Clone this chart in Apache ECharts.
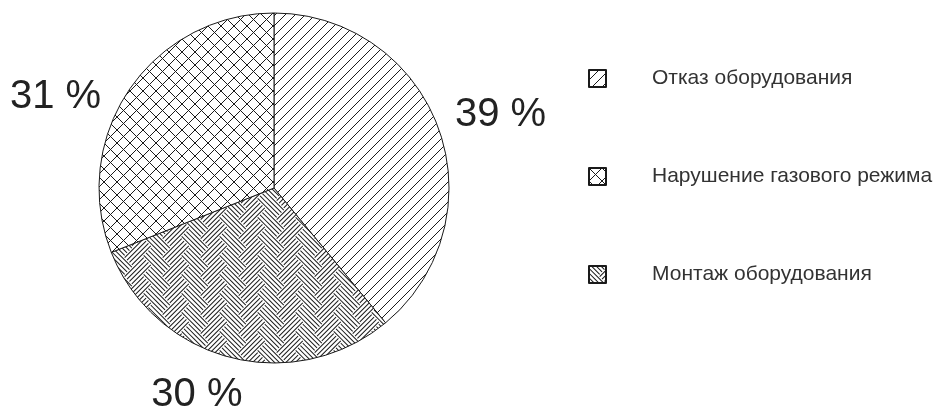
<!DOCTYPE html>
<html>
<head>
<meta charset="utf-8">
<script src="https://cdn.jsdelivr.net/npm/echarts@6/dist/echarts.min.js"></script>
<style>
  html, body { margin: 0; padding: 0; background: #ffffff; }
  #chart { width: 940px; height: 412px; }
</style>
</head>
<body>
<div id="chart"></div>
<script>
// slices, clockwise from 12 o'clock
const categories = ['Отказ оборудования', 'Монтаж оборудования', 'Нарушение газового режима']
const shares = [39, 30, 31]
// legend order as in the picture
const legendOrder = ['Отказ оборудования', 'Нарушение газового режима', 'Монтаж оборудования']

const INK = '#1a1a1a'

function makeTile(w, h, draw) {
  const c = document.createElement('canvas')
  c.width = w
  c.height = h
  const ctx = c.getContext('2d')
  ctx.fillStyle = '#ffffff'
  ctx.fillRect(0, 0, w, h)
  ctx.strokeStyle = INK
  ctx.lineWidth = 1
  draw(ctx)
  return c
}

// "/" single hatch
const hatchTile = makeTile(10, 10, ctx => {
  ctx.beginPath()
  for (let k = -1; k <= 1; k++) {
    ctx.moveTo(k * 10, 10)
    ctx.lineTo(k * 10 + 10, 0)
  }
  ctx.stroke()
})

// diagonal cross hatch
const crossTile = makeTile(13, 13, ctx => {
  ctx.beginPath()
  for (let k = -1; k <= 1; k++) {
    ctx.moveTo(k * 13, 13)
    ctx.lineTo(k * 13 + 13, 0)
    ctx.moveTo(k * 13, 0)
    ctx.lineTo(k * 13 + 13, 13)
  }
  ctx.stroke()
})

// twill weave turned by 45 degrees
const P = 19
const weaveTile = makeTile(2 * P, P, ctx => {
  const a = P / Math.SQRT2
  const n = 4
  ctx.save()
  ctx.rotate(Math.PI / 4)
  ctx.beginPath()
  for (let i = -8; i <= 8; i++) {
    for (let j = -8; j <= 8; j++) {
      const horiz = (((i - j) % 4) + 4) % 4 < 2
      for (let k = 0; k < n; k++) {
        const off = (k + 0.5) * a / n
        if (horiz) {
          ctx.moveTo(i * a, j * a + off)
          ctx.lineTo((i + 1) * a, j * a + off)
        } else {
          ctx.moveTo(i * a + off, j * a)
          ctx.lineTo(i * a + off, (j + 1) * a)
        }
      }
    }
  }
  ctx.stroke()
  ctx.restore()
})

const fills = [hatchTile, weaveTile, crossTile]
// nudges of the percentage labels, per slice
const labelNudge = [[-15, -4], [24, 10], [0, 23]]

const chart = echarts.init(document.getElementById('chart'))

chart.setOption({
  backgroundColor: '#ffffff',
  animation: false,
  legend: {
    data: legendOrder,
    orient: 'vertical',
    left: 588,
    top: 68,
    padding: 0,
    itemWidth: 17,
    itemHeight: 17,
    itemGap: 77,
    icon: 'rect',
    textStyle: {
      fontFamily: 'Liberation Sans',
      fontSize: 21,
      lineHeight: 20,
      color: '#333333',
      padding: [0, 0, 0, 41]
    }
  },
  series: [
    {
      type: 'pie',
      center: [274, 188],
      radius: 175,
      startAngle: 90,
      clockwise: true,
      data: categories.map((name, i) => ({
        name,
        value: shares[i],
        itemStyle: { color: { image: fills[i], repeat: 'repeat' } }
      })),
      itemStyle: {
        borderColor: INK,
        borderWidth: 1
      },
      label: {
        show: true,
        position: 'outside',
        formatter: '{c} %',
        overflow: 'none',
        fontFamily: 'Liberation Sans',
        fontSize: 40,
        color: '#222222'
      },
      labelLine: { show: false, length: 28, length2: 0 },
      labelLayout: params => ({
        dx: labelNudge[params.dataIndex][0],
        dy: labelNudge[params.dataIndex][1]
      }),
      emphasis: { disabled: true }
    }
  ]
})
</script>
</body>
</html>
